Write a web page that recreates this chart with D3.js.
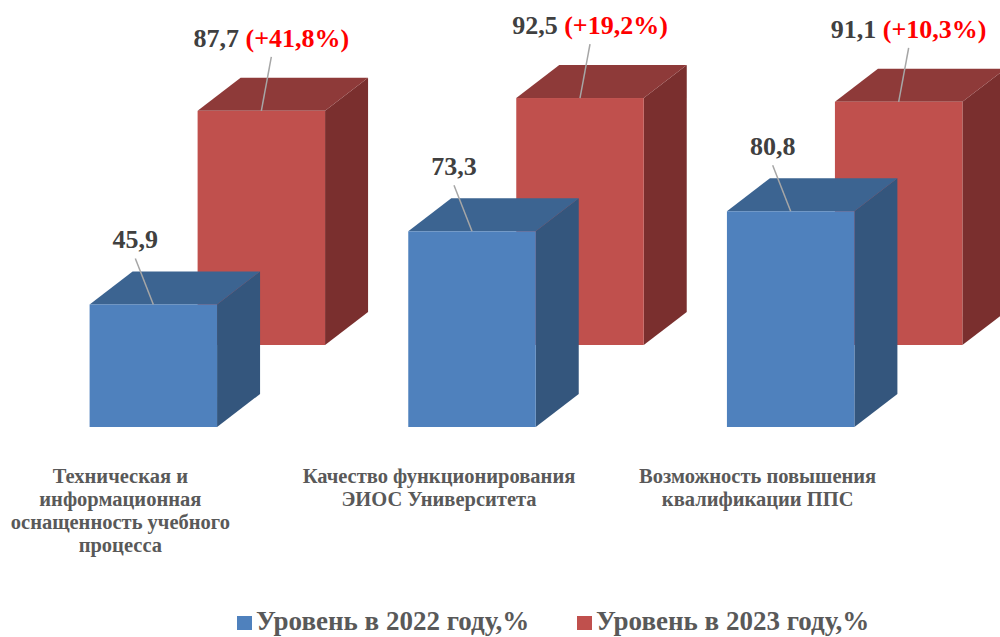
<!DOCTYPE html>
<html>
<head>
<meta charset="utf-8">
<script src="https://cdn.jsdelivr.net/npm/d3@7"></script>
<style>
  body { margin: 0; background: #fff; }
  svg { display: block; font-family: "Liberation Serif", "DejaVu Serif", serif; font-weight: bold; }
</style>
</head>
<body>
<svg width="1000" height="637"></svg>
<script>
// data
const categories = [
  ["Техническая и", "информационная", "оснащенность учебного", "процесса"],
  ["Качество функционирования", "ЭИОС Университета"],
  ["Возможность повышения", "квалификации ППС"]
];
const seriesNames = ["Уровень  в 2022 году,%", "Уровень  в 2023 году,%"];
const values2022 = [45.9, 73.3, 80.8];
const values2023 = [87.7, 92.5, 91.1];
const growth = ["+41,8%", "+19,2%", "+10,3%"];

const fmt = v => String(v).replace(".", ",");

const svg = d3.select("svg");

// 3d-ish geometry: each series sits further back (shifted right/up)
const baseY = 427;
const seriesShift = { dx: 108, dy: -82 };
const depth = { dx: 43, dy: -33 };

const keys = categories.map((c, i) => i);
const xScale = d3.scaleBand()
                 .domain(keys)
                 .range([-6, 950])
                 .paddingInner(0.6)
                 .paddingOuter(0.3);

const yScale = d3.scaleLinear()
                 .domain([0, 100])
                 .range([baseY, baseY - 267]);

const colors = [
  { front: "#4f81bd", top: "#3c6491", side: "#34567d" },
  { front: "#c0504d", top: "#8e3a39", side: "#7a2f2e" }
];

const series = [values2022, values2023];

// draw back series first
[1, 0].forEach(s => {
  const g = svg.append("g")
               .attr("transform", `translate(${s * seriesShift.dx}, ${s * seriesShift.dy})`);
  const c = colors[s];
  const bars = g.selectAll("g.bar")
                .data(series[s])
                .enter()
                .append("g")
                .attr("class", "bar");

  // side face
  bars.append("path")
      .attr("fill", c.side)
      .attr("d", (d, i) => {
        const x1 = xScale(i) + xScale.bandwidth();
        const yT = yScale(d), yB = yScale(0);
        return `M${x1},${yT} L${x1 + depth.dx},${yT + depth.dy} L${x1 + depth.dx},${yB + depth.dy} L${x1},${yB} Z`;
      });

  // top face
  bars.append("path")
      .attr("fill", c.top)
      .attr("d", (d, i) => {
        const x0 = xScale(i), x1 = x0 + xScale.bandwidth();
        const yT = yScale(d);
        return `M${x0},${yT} L${x0 + depth.dx},${yT + depth.dy} L${x1 + depth.dx},${yT + depth.dy} L${x1},${yT} Z`;
      });

  // front face
  bars.append("rect")
      .attr("fill", c.front)
      .attr("x", (d, i) => xScale(i))
      .attr("y", d => yScale(d))
      .attr("width", xScale.bandwidth())
      .attr("height", d => yScale(0) - yScale(d));
});

// data labels with leader lines
const labelGap = [56, 64];
const labelDx = [-18, 10];
[0, 1].forEach(s => {
  const g = svg.append("g")
               .attr("transform", `translate(${s * seriesShift.dx}, ${s * seriesShift.dy})`);
  series[s].forEach((d, i) => {
    const cx = xScale(i) + xScale.bandwidth() / 2;
    const yT = yScale(d);
    const lx = cx + labelDx[s];
    const ly = yT - labelGap[s];
    g.append("line")
     .attr("x1", lx).attr("y1", ly + 10)
     .attr("x2", cx).attr("y2", yT)
     .attr("stroke", "#a6a6a6")
     .attr("stroke-width", 1.5);
    const t = g.append("text")
               .attr("x", lx)
               .attr("y", ly)
               .attr("text-anchor", "middle")
               .style("font-size", "26px")
               .attr("fill", "#404040");
    t.append("tspan").text(fmt(d));
    if (s === 1) {
      t.append("tspan").attr("fill", "#ff0000").text(" (" + growth[i] + ")");
    }
  });
});

// category labels
const catG = svg.append("g");
categories.forEach((lines, i) => {
  const cx = xScale(i) + xScale.bandwidth() / 2 - 33;
  const t = catG.append("text")
                .attr("text-anchor", "middle")
                .attr("fill", "#595959")
                .style("font-size", "20.5px");
  lines.forEach((ln, j) => {
    t.append("tspan")
     .attr("x", cx)
     .attr("y", 483 + j * 23)
     .text(ln);
  });
});

// legend
const legendX = [237, 577];
seriesNames.forEach((name, s) => {
  const lg = svg.append("g").attr("transform", `translate(${legendX[s]}, 616)`);
  lg.append("rect")
    .attr("width", 15).attr("height", 14)
    .attr("fill", colors[s].front);
  lg.append("text")
    .attr("x", 19).attr("y", 14)
    .attr("fill", "#595959")
    .style("font-size", "27px")
    .text(name);
});
</script>
</body>
</html>
